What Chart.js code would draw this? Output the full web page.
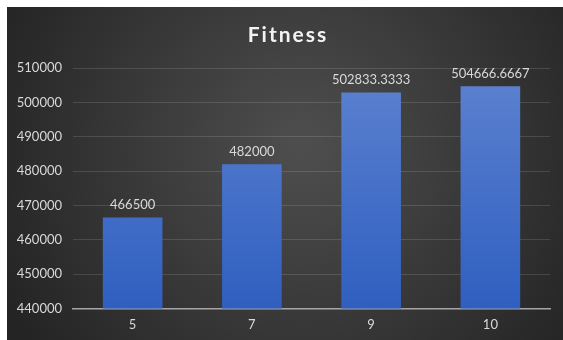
<!DOCTYPE html>
<html>
<head>
<meta charset="utf-8">
<script src="https://cdn.jsdelivr.net/npm/chart.js@4"></script>
<style>
  html, body { margin: 0; padding: 0; background: #fff; }
  #wrap { position: absolute; left: 7px; top: 7px; width: 556px; height: 333px; }
</style>
</head>
<body>
<div id="wrap"><canvas id="fitness"></canvas></div>
<script>
const labels = ['5', '7', '9', '10'];
const fitness = [466500, 482000, 502833.3333, 504666.6667];
const valueLabels = ['466500', '482000', '502833.3333', '504666.6667'];
const chartTitle = 'Fitness';

const FONT = 'Lato, "Open Sans", sans-serif';

// latar belakang gelap dengan gradasi radial
const bgPlugin = {
  id: 'bg',
  beforeDraw(chart) {
    const { ctx, width, height } = chart;
    const g = ctx.createRadialGradient(width * 0.53, height * 0.42, 10, width * 0.53, height * 0.42, width * 0.6);
    g.addColorStop(0, '#4d4d4d');
    g.addColorStop(1, '#242424');
    ctx.save();
    ctx.fillStyle = g;
    ctx.fillRect(0, 0, width, height);
    ctx.restore();
  },
};

// judul dengan jarak huruf, seperti di gambar
const titlePlugin = {
  id: 'spacedTitle',
  afterDraw(chart) {
    const { ctx } = chart;
    ctx.save();
    ctx.fillStyle = '#f2f2f2';
    ctx.font = 'bold 21px ' + FONT;
    ctx.letterSpacing = '2px';
    ctx.textAlign = 'center';
    ctx.textBaseline = 'alphabetic';
    ctx.fillText(chartTitle, 281, 35);
    ctx.restore();
  },
};

// nilai di atas setiap batang
const valuePlugin = {
  id: 'values',
  afterDatasetsDraw(chart) {
    const { ctx } = chart;
    const meta = chart.getDatasetMeta(0);
    ctx.save();
    ctx.fillStyle = '#d9d9d9';
    ctx.font = '13px ' + FONT;
    ctx.textAlign = 'center';
    ctx.textBaseline = 'bottom';
    meta.data.forEach((bar, i) => {
      ctx.fillText(valueLabels[i], bar.x, bar.y - 6);
    });
    ctx.restore();
  },
};

function barGradient(context) {
  const { ctx, chartArea } = context.chart;
  if (!chartArea) return '#4472c4';
  const g = ctx.createLinearGradient(0, chartArea.top, 0, chartArea.bottom);
  g.addColorStop(0, '#5d82d0');
  g.addColorStop(1, '#2f5fc0');
  return g;
}

new Chart(document.getElementById('fitness'), {
  type: 'bar',
  data: {
    labels: labels,
    datasets: [{
      label: chartTitle,
      data: fitness,
      backgroundColor: barGradient,
      borderWidth: 0,
      barPercentage: 0.5,
      categoryPercentage: 1,
    }],
  },
  options: {
    responsive: true,
    maintainAspectRatio: false,
    animation: false,
    layout: { padding: { left: 0, right: 13, top: 61, bottom: -2 } },
    plugins: {
      legend: { display: false },
      tooltip: { enabled: false },
      title: { display: false },
    },
    scales: {
      x: {
        grid: { display: false, drawTicks: false },
        border: { display: true, color: '#a6a6a6', width: 1.5 },
        ticks: { color: '#d9d9d9', font: { family: FONT, size: 13 }, padding: 9 },
      },
      y: {
        min: 440000,
        max: 510000,
        afterFit(scale) { scale.width = 66; },
        grid: { color: 'rgba(255,255,255,0.13)', drawTicks: false },
        border: { display: false },
        ticks: {
          stepSize: 10000,
          color: '#d9d9d9',
          font: { family: FONT, size: 13 },
          padding: 11,
          callback: (v) => String(v),
        },
      },
    },
  },
  plugins: [bgPlugin, titlePlugin, valuePlugin],
});
</script>
</body>
</html>
